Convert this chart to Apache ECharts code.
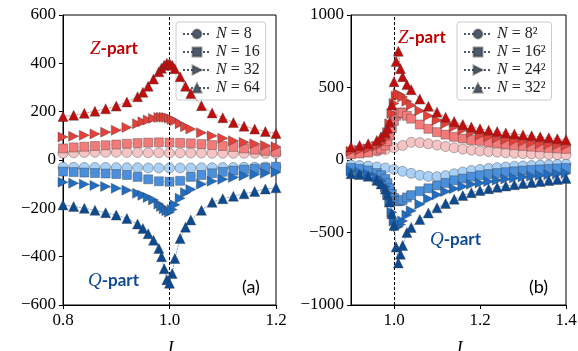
<!DOCTYPE html>
<html>
<head>
<meta charset="utf-8">
<script src="https://cdn.jsdelivr.net/npm/echarts@6/dist/echarts.min.js"></script>
<style>
  html, body { margin: 0; padding: 0; background: #fff; }
  #chart { width: 578px; height: 351px; }
</style>
</head>
<body>
<div id="chart"></div>
<script>
// ---- panel (a) ----
const xA = [0.80, 0.82, 0.84, 0.86, 0.88, 0.90, 0.92, 0.94, 0.96, 0.98, 1.00,
            1.02, 1.04, 1.06, 1.08, 1.10, 1.12, 1.14, 1.16, 1.18, 1.20];
const xAf = [0.80, 0.82, 0.84, 0.86, 0.88, 0.90, 0.92, 0.94, 0.95, 0.96, 0.97, 0.98,
             0.985, 0.99, 0.995, 1.00, 1.005, 1.01, 1.02, 1.03, 1.04,
             1.06, 1.08, 1.10, 1.12, 1.14, 1.16, 1.18, 1.20];
const zA8  = [28, 30, 31, 32, 32, 32, 31, 31, 30, 30, 29, 29, 29, 29, 28, 28, 28, 28, 28, 28, 27];
const zA16 = [48, 52, 55, 58, 61, 64, 67, 70, 72, 73, 72, 71, 69, 66, 62, 58, 54, 48, 43, 38, 34];
const zA32 = [95, 98, 102, 108, 115, 123, 135, 150, 158, 166, 172, 176,
              177, 177, 176, 173, 168, 162, 150, 138, 128,
              113, 100, 90, 80, 73, 67, 60, 55];
const zA64 = [180, 185, 193, 202, 212, 223, 240, 262, 280, 305, 335, 365,
              380, 392, 400, 400, 392, 378, 345, 305, 275,
              225, 195, 175, 155, 140, 128, 118, 110];
const qA8  = [-30, -30, -31, -31, -31, -32, -32, -32, -33, -33, -33, -33, -33, -32, -32, -31, -31, -30, -30, -29, -29];
const qA16 = [-48, -50, -52, -54, -56, -58, -62, -70, -80, -88, -90, -86, -70, -62, -55, -49, -44, -40, -36, -32, -28];
const qA32 = [-92, -96, -100, -105, -110, -117, -125, -138, -146, -155, -165, -182,
              -192, -202, -210, -216, -205, -185, -158, -135, -122,
              -100, -88, -80, -72, -65, -60, -55, -51];
const qA64 = [-186, -192, -200, -208, -218, -228, -242, -265, -283, -305, -332, -366,
              -400, -450, -495, -510, -470, -408, -325, -278, -248,
              -208, -175, -160, -150, -140, -130, -120, -115];

// ---- panel (b) ----
const xB = [0.90, 0.92, 0.94, 0.96, 0.98, 1.00, 1.02, 1.04, 1.06, 1.08, 1.10, 1.12, 1.14,
            1.16, 1.18, 1.20, 1.22, 1.24, 1.26, 1.28, 1.30, 1.32, 1.34, 1.36, 1.38, 1.40];
const xBf = [0.90, 0.92, 0.94, 0.96, 0.97, 0.98, 0.985, 0.99, 0.995, 1.00, 1.005, 1.01, 1.015,
             1.02, 1.03, 1.04, 1.06, 1.08, 1.10, 1.12, 1.14, 1.16, 1.18, 1.20, 1.22, 1.24,
             1.26, 1.28, 1.30, 1.32, 1.34, 1.36, 1.38, 1.40];
const zB8  = [45, 50, 55, 62, 72, 85, 100, 122, 120, 112, 103, 93, 84,
              75, 68, 62, 58, 54, 50, 47, 44, 42, 40, 38, 36, 34];
const zB16 = [40, 45, 52, 65, 78, 100, 130, 170, 220, 270, 305, 320, 328,
              325, 305, 285, 245, 215, 192, 175, 160, 148, 138, 132, 122, 115,
              108, 102, 97, 92, 88, 84, 80, 77];
const zB24 = [60, 68, 78, 95, 115, 150, 190, 250, 320, 390, 440, 455, 448,
              435, 405, 378, 340, 305, 275, 250, 228, 208, 188, 170, 160, 152,
              142, 134, 127, 120, 114, 109, 104, 100];
const zB32 = [90, 100, 112, 135, 160, 190, 220, 260, 380, 540, 680, 750, 630,
              575, 520, 485, 420, 370, 330, 295, 265, 245, 228, 215, 205, 196,
              187, 180, 173, 167, 160, 153, 146, 140];
const qB8  = [-35, -38, -42, -48, -55, -65, -78, -92, -105, -113, -115, -108, -95,
              -82, -72, -65, -58, -53, -48, -44, -41, -38, -35, -33, -31, -29];
const qB16 = [-55, -62, -72, -90, -105, -130, -160, -195, -235, -262, -280, -285, -282,
              -275, -258, -242, -215, -195, -175, -158, -140, -128, -115, -105, -97, -90,
              -84, -78, -73, -69, -65, -61, -58, -55];
const qB24 = [-75, -85, -98, -120, -145, -185, -230, -290, -360, -420, -455, -460, -445,
              -420, -380, -350, -305, -268, -240, -218, -198, -182, -168, -158, -148, -139,
              -131, -124, -118, -112, -107, -102, -97, -92];
const qB32 = [-95, -100, -112, -140, -165, -200, -240, -290, -370, -450, -600, -710, -650,
              -590, -500, -465, -410, -365, -330, -300, -270, -245, -225, -210, -198, -188,
              -179, -170, -162, -155, -148, -141, -134, -127];

const namesA = ['N = 8', 'N = 16', 'N = 32', 'N = 64'];
const namesB = ['N = 8²', 'N = 16²', 'N = 24²', 'N = 32²'];

const zCol = ['#f6c4c4', '#f47a7a', '#e5413b', '#c20d0d'];
const qCol = ['#a9d0f6', '#4a8fdb', '#1f6ec4', '#0c4a92'];
const RTRI = 'path://M0,0L10,5L0,10Z';
const syms = [['circle', 10], ['rect', 9], [RTRI, 10], ['triangle', 10]];
const legCol = '#4b5a6c';

function pts(xs, ys) { return xs.map((x, i) => [x, ys[i]]); }

function mk(name, data, color, k, gi) {
  return {
    name: name, type: 'line', xAxisIndex: gi, yAxisIndex: gi,
    data: data, symbol: syms[k][0], symbolSize: syms[k][1],
    showSymbol: true, animation: false, z: 3 + k,
    itemStyle: { color: color, borderColor: 'rgba(60,60,60,0.55)', borderWidth: 0.7 },
    lineStyle: { color: color, width: 0.8, type: 'dotted', opacity: 0.9 },
    emphasis: { disabled: true }
  };
}

const vline = {
  silent: true, symbol: 'none', label: { show: false }, animation: false,
  lineStyle: { color: '#000', type: [3, 2], width: 1 },
  data: [{ xAxis: 1.0 }]
};

const series = [];
const dA = [[pts(xA, zA8), pts(xA, zA16), pts(xAf, zA32), pts(xAf, zA64)],
            [pts(xA, qA8), pts(xA, qA16), pts(xAf, qA32), pts(xAf, qA64)]];
const dB = [[pts(xB, zB8), pts(xBf, zB16), pts(xBf, zB24), pts(xBf, zB32)],
            [pts(xB, qB8), pts(xBf, qB16), pts(xBf, qB24), pts(xBf, qB32)]];
for (let k = 0; k < 4; k++) {
  series.push(mk('za' + k, dA[0][k], zCol[k], k, 0));
  series.push(mk('qa' + k, dA[1][k], qCol[k], k, 0));
  series.push(mk('zb' + k, dB[0][k], zCol[k], k, 1));
  series.push(mk('qb' + k, dB[1][k], qCol[k], k, 1));
}
series[0].markLine = vline;
series[2].markLine = vline;
// legend entries
for (let k = 0; k < 4; k++) {
  series.push(Object.assign(mk(namesA[k], [], legCol, k, 0), { lineStyle: { color: legCol, width: 0.8, type: 'dotted' } }));
  series.push(Object.assign(mk(namesB[k], [], legCol, k, 1), { lineStyle: { color: legCol, width: 0.8, type: 'dotted' } }));
}

const serif = 'Liberation Serif';
const sans = 'Lato';
const minus = v => String(v).replace('-', '\u2212');

function xAxis(gi, min, max, ticks) {
  return {
    type: 'value', gridIndex: gi, min: min, max: max,
    name: 'J', nameLocation: 'middle', nameGap: 35,
    nameTextStyle: { fontFamily: serif, fontStyle: 'italic', fontSize: 18, color: '#000' },
    axisLine: { onZero: false, lineStyle: { color: '#000', width: 1 } },
    axisTick: { length: 4, lineStyle: { color: '#000' }, customValues: ticks },
    axisLabel: { customValues: ticks, formatter: v => v.toFixed(1), fontFamily: serif, fontSize: 17, color: '#000', margin: 7 },
    splitLine: { show: false }
  };
}
function yAxis(gi, lim, step) {
  return {
    type: 'value', gridIndex: gi, min: -lim, max: lim, interval: step,
    axisLine: { onZero: false, lineStyle: { color: '#000', width: 1 } },
    axisTick: { length: 4, lineStyle: { color: '#000' } },
    axisLabel: { formatter: minus, fontFamily: serif, fontSize: 17, color: '#000', margin: 7 },
    splitLine: { show: false }
  };
}

function legend(names, left) {
  return {
    data: names, orient: 'vertical', left: left, top: 22,
    padding: [4, 6, 4, 6], itemGap: 2, itemWidth: 28, itemHeight: 11,
    backgroundColor: 'rgba(255,255,255,0.8)', borderColor: '#cccccc', borderWidth: 1, borderRadius: 3,
    selectedMode: false,
    formatter: name => '{i|N}{r|' + name.slice(1) + '}',
    textStyle: {
      rich: {
        i: { fontFamily: serif, fontStyle: 'italic', fontSize: 16, color: '#222', lineHeight: 17 },
        r: { fontFamily: serif, fontSize: 16, color: '#222', lineHeight: 17 }
      }
    }
  };
}

function label(x, y, sym, col) {
  return {
    type: 'text', left: x, top: y, z: 20,
    style: {
      text: '{m|' + sym + '}{p|-part}',
      rich: {
        m: { fontFamily: serif, fontStyle: 'italic', fontSize: 19, fill: col },
        p: { fontFamily: sans, fontWeight: 'bold', fontSize: 17, fill: col }
      }
    }
  };
}

const chart = echarts.init(document.getElementById('chart'), null, { renderer: 'canvas' });
chart.setOption({
  backgroundColor: '#fff',
  animation: false,
  grid: [
    { left: 63, top: 15, width: 213, height: 290, show: true, borderColor: '#000', borderWidth: 1, outerBoundsMode: 'none', containLabel: false },
    { left: 351, top: 15, width: 215, height: 290, show: true, borderColor: '#000', borderWidth: 1, outerBoundsMode: 'none', containLabel: false }
  ],
  xAxis: [xAxis(0, 0.8, 1.2, [0.8, 1.0, 1.2]), xAxis(1, 0.9, 1.4, [1.0, 1.2, 1.4])],
  yAxis: [yAxis(0, 600, 200), yAxis(1, 1000, 500)],
  legend: [legend(namesA, 176), legend(namesB, 457)],
  graphic: [
    label(90, 39, 'Z', '#c00000'),
    label(88, 271, 'Q', '#0c4a92'),
    label(398, 28, 'Z', '#c00000'),
    label(430, 230, 'Q', '#0c4a92'),
    { type: 'text', left: 242, top: 278, z: 20, style: { text: '(a)', fontFamily: sans, fontSize: 18, fill: '#000' } },
    { type: 'text', left: 529, top: 278, z: 20, style: { text: '(b)', fontFamily: sans, fontSize: 18, fill: '#000' } }
  ],
  series: series
});
</script>
</body>
</html>
